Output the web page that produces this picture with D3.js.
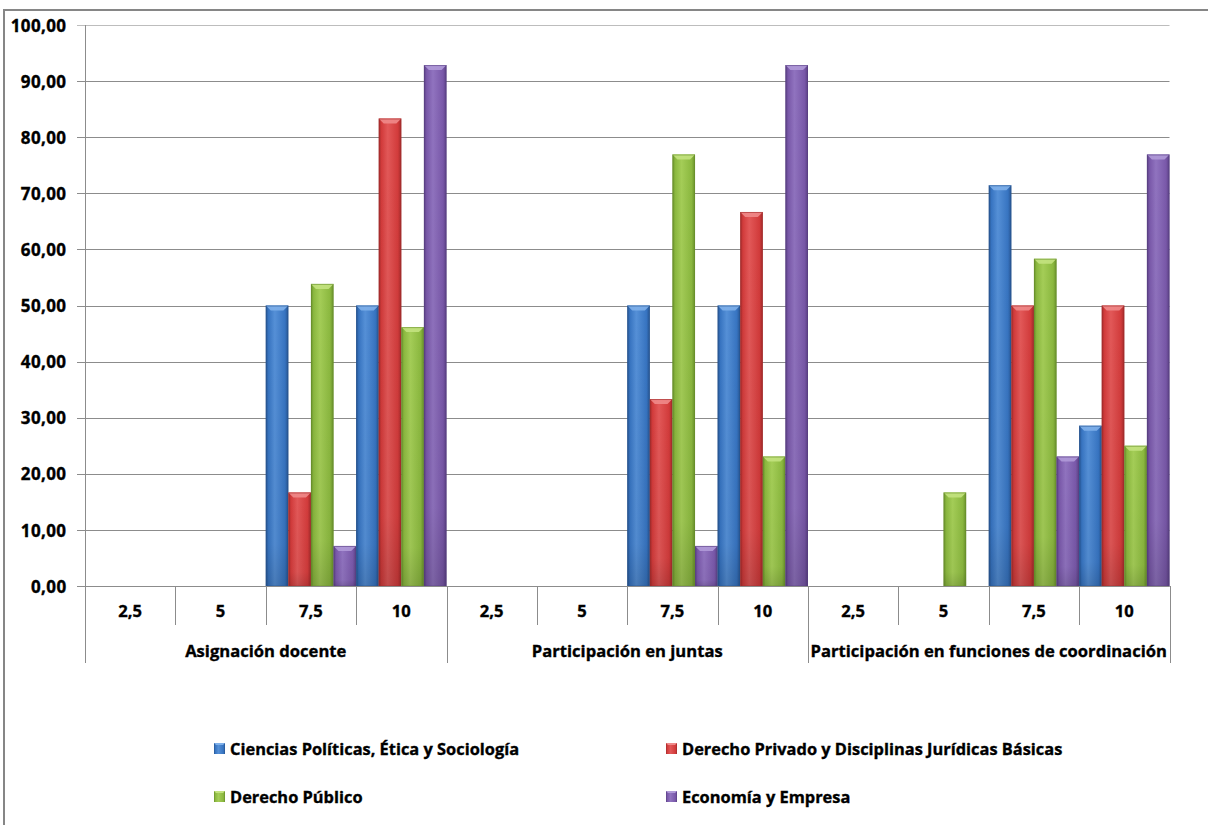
<!DOCTYPE html>
<html><head><meta charset="utf-8">
<script src="https://cdn.jsdelivr.net/npm/d3@7"></script>
<style>body{margin:0;background:#fff;}svg{display:block;font-family:"Open Sans",Lato,sans-serif;font-weight:bold;}
text{stroke:#000;stroke-width:0.35px;}</style>
</head><body>
<svg id="c" width="1208" height="825"></svg>
<script>
const groups = ["Asignación docente", "Participación en juntas", "Participación en funciones de coordinación"];
const subcats = ["2,5", "5", "7,5", "10"];
const seriesNames = ["Ciencias Políticas, Ética y Sociología", "Derecho Privado y Disciplinas Jurídicas Básicas", "Derecho Público", "Economía y Empresa"];
// values per series, order: group0 (2,5 5 7,5 10), group1, group2
const cienciasPoliticas = [0, 0, 50.00, 50.00,   0, 0, 50.00, 50.00,   0, 0, 71.43, 28.57];
const derechoPrivado    = [0, 0, 16.67, 83.33,   0, 0, 33.33, 66.67,   0, 0, 50.00, 50.00];
const derechoPublico    = [0, 0, 53.85, 46.15,   0, 0, 76.92, 23.08,   0, 16.67, 58.33, 25.00];
const economiaEmpresa   = [0, 0, 7.14, 92.86,    0, 0, 7.14, 92.86,    0, 0, 23.08, 76.92];
const yTicks = [0,10,20,30,40,50,60,70,80,90,100];
const seriesValues = [cienciasPoliticas, derechoPrivado, derechoPublico, economiaEmpresa];
const palette = [
  {base:"#3774c1", dark:"#27548f", light:"#5590d7", top:"#7fb0ea"},
  {base:"#d23b3b", dark:"#a12b2b", light:"#e25858", top:"#ef8a8a"},
  {base:"#8bb83f", dark:"#688f2b", light:"#a4cd57", top:"#c3e27f"},
  {base:"#7958a9", dark:"#593f82", light:"#9073bf", top:"#b09ad8"}
];

(function(){
const svg = d3.select("#c");
const defs = svg.append("defs");
palette.forEach((p,i)=>{
  const g = defs.append("linearGradient").attr("id","g"+i).attr("x1","0").attr("x2","1").attr("y1","0").attr("y2","0");
  g.append("stop").attr("offset","0").attr("stop-color",p.dark);
  g.append("stop").attr("offset","0.12").attr("stop-color",p.base);
  g.append("stop").attr("offset","0.4").attr("stop-color",p.light);
  g.append("stop").attr("offset","0.85").attr("stop-color",p.base);
  g.append("stop").attr("offset","1").attr("stop-color",p.dark);
  const v = defs.append("linearGradient").attr("id","v"+i).attr("x1","0").attr("x2","0").attr("y1","0").attr("y2","1");
  v.append("stop").attr("offset","0").attr("stop-color","#000").attr("stop-opacity",0);
  v.append("stop").attr("offset","0.85").attr("stop-color","#000").attr("stop-opacity",0.04);
  v.append("stop").attr("offset","1").attr("stop-color","#000").attr("stop-opacity",0.15);
});

// outer frame
svg.append("path").attr("d","M4,830 V10 H1215").attr("fill","none").attr("stroke","#868686").attr("stroke-width",2);

const pLeft = 85, pRight = 1169.5, pTop = 25, pBottom = 586;
const y = d3.scaleLinear().domain([0,100]).range([pBottom, pTop]);
const cats = [];
groups.forEach((g,gi)=>subcats.forEach((s,si)=>cats.push({g:gi,s:si,key:gi+"-"+si,label:s})));
const x = d3.scaleBand().domain(cats.map(c=>c.key)).range([pLeft,pRight]).padding(0);
const xs = d3.scaleBand().domain(d3.range(seriesNames.length)).range([0,x.bandwidth()]).padding(0);

// gridlines
svg.append("g").selectAll("line").data(yTicks).join("line")
  .attr("x1",pLeft-8).attr("x2",pRight).attr("y1",d=>Math.round(y(d))+0.5).attr("y2",d=>Math.round(y(d))+0.5)
  .attr("stroke",d=>d===100?"#bdbdbd":"#8c8c8c").attr("stroke-width",1);

// y axis labels
const yAxis = d3.axisLeft(y).tickValues(yTicks).tickSize(0).tickPadding(0)
  .tickFormat(d=>d3.format(".2f")(d).replace(".",","));
const ya = svg.append("g").attr("transform",`translate(${pLeft-18.5},0)`).call(yAxis);
ya.select(".domain").remove();
ya.selectAll("text").attr("font-size",17).attr("font-weight","bold").attr("fill","#000").attr("font-family","Open Sans")
  .attr("dy","0.36em").attr("letter-spacing","0.4px");

// bars
const barData = [];
cats.forEach((c,ci)=>seriesValues.forEach((vals,si)=>barData.push({c,si,v:vals[ci]})));
const bars = svg.append("g").selectAll("g").data(barData.filter(d=>d.v>0)).join("g")
  .attr("transform",d=>`translate(${x(d.c.key)+xs(d.si)},0)`);
const bw = xs.bandwidth();
bars.append("rect").attr("x",0).attr("width",bw).attr("y",d=>y(d.v)).attr("height",d=>pBottom-y(d.v))
  .attr("fill",d=>`url(#g${d.si})`);
bars.append("rect").attr("x",0).attr("width",bw).attr("y",d=>y(d.v)).attr("height",d=>pBottom-y(d.v))
  .attr("fill",d=>`url(#v${d.si})`);
const bev = 5;
bars.append("path").attr("d",d=>{const t=y(d.v);return `M0,${t} H${bw} L${bw-bev},${t+bev} H${bev} Z`;})
  .attr("fill",d=>palette[d.si].top).attr("opacity",0.9);
bars.append("rect").attr("x",0.5).attr("width",bw-1).attr("y",d=>y(d.v)+0.5).attr("height",d=>pBottom-y(d.v)-0.5)
  .attr("fill","none").attr("stroke",d=>palette[d.si].dark).attr("stroke-opacity",0.6).attr("stroke-width",1);

// axis lines
svg.append("line").attr("x1",pLeft+0.5).attr("x2",pLeft+0.5).attr("y1",pTop).attr("y2",663).attr("stroke","#8c8c8c");
svg.append("line").attr("x1",pLeft).attr("x2",pRight).attr("y1",pBottom+0.5).attr("y2",pBottom+0.5).attr("stroke","#8c8c8c");
// category separators
const seps = d3.range(1, cats.length+1);
svg.append("g").selectAll("line").data(seps).join("line")
  .attr("x1",i=>Math.round(pLeft+i*x.step())+0.5).attr("x2",i=>Math.round(pLeft+i*x.step())+0.5)
  .attr("y1",pBottom).attr("y2",i=>i%subcats.length===0?663:625).attr("stroke","#8c8c8c");

// sub labels
svg.append("g").selectAll("text").data(cats).join("text")
  .attr("x",d=>x(d.key)+x.bandwidth()/2).attr("y",617).attr("text-anchor","middle")
  .attr("font-size",16.6).attr("fill","#000").text(d=>d.label);
// group labels
const gw = x.step()*subcats.length;
svg.append("g").selectAll("text").data(groups).join("text")
  .attr("x",(d,i)=>pLeft+gw*i+gw/2).attr("y",657).attr("text-anchor","middle")
  .attr("font-size",16.6).attr("fill","#000").text(d=>d);

// legend
const legPos = [[214,743],[666,743],[214,791],[666,791]];
const leg = svg.append("g").selectAll("g").data(seriesNames).join("g")
  .attr("transform",(d,i)=>`translate(${legPos[i][0]},${legPos[i][1]})`);
leg.append("rect").attr("x",0).attr("y",0).attr("width",11).attr("height",11).attr("fill",(d,i)=>`url(#g${i})`);
leg.append("path").attr("d","M0,0 H11 L9,2 H2 Z").attr("fill",(d,i)=>palette[i].top);
leg.append("text").attr("x",16).attr("y",12).attr("font-size",16.4).attr("fill","#000").text(d=>d);
})();
</script>
</body></html>
